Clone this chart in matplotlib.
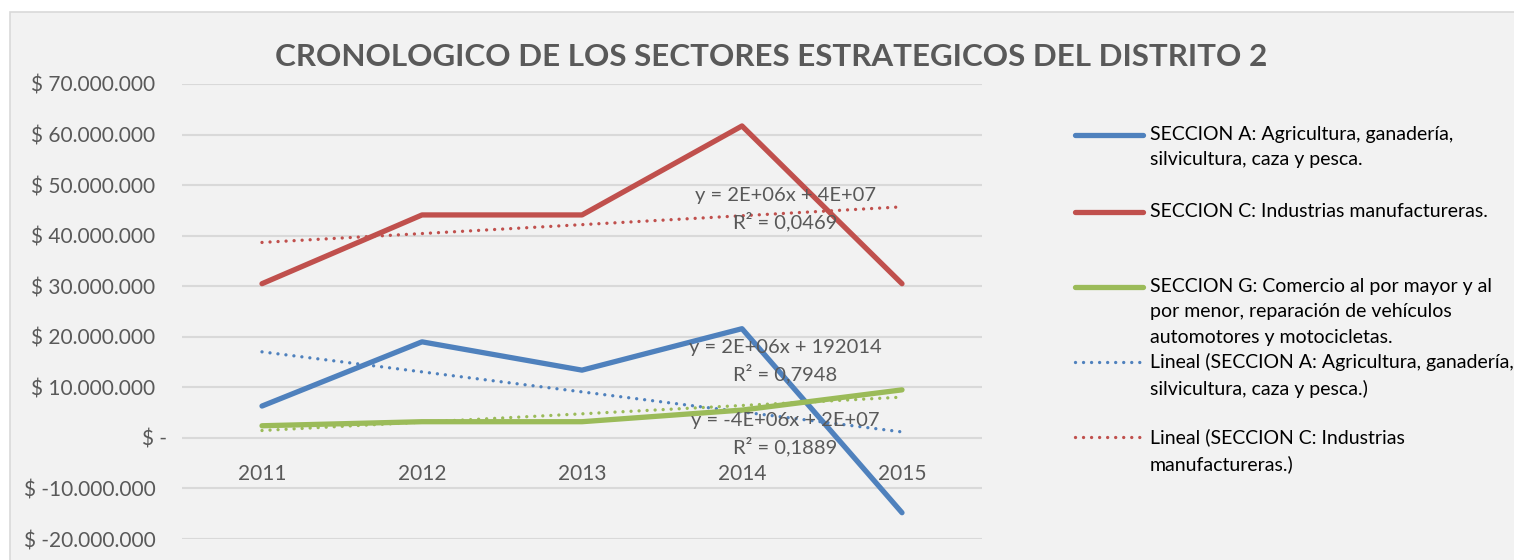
import numpy as np
import matplotlib.pyplot as plt
from matplotlib.lines import Line2D
from matplotlib.ticker import FuncFormatter
from matplotlib.transforms import ScaledTranslation

plt.rcParams['font.family'] = ['Lato', 'DejaVu Sans']

# --- data ----------------------------------------------------------------
years = ["2011", "2012", "2013", "2014", "2015"]
sec_a = [6.3e6, 19.0e6, 13.4e6, 21.6e6, -14.8e6]
sec_c = [30.5e6, 44.1e6, 44.1e6, 61.7e6, 30.5e6]
sec_g = [2.4e6, 3.2e6, 3.2e6, 5.5e6, 9.5e6]

labels = [
    "SECCION A: Agricultura, ganadería,\nsilvicultura, caza y pesca.",
    "SECCION C: Industrias manufactureras.",
    "SECCION G: Comercio al por mayor y al\npor menor, reparación de vehículos\nautomotores y motocicletas.",
    "Lineal (SECCION A: Agricultura, ganadería,\nsilvicultura, caza y pesca.)",
    "Lineal (SECCION C: Industrias\nmanufactureras.)",
]
eq_texts = [
    "y = 2E+06x + 4E+07\nR² = 0,0469",
    "y = 2E+06x + 192014\nR² = 0,7948",
    "y = -4E+06x + 2E+07\nR² = 0,1889",
]
title = "CRONOLOGICO DE LOS SECTORES ESTRATEGICOS DEL DISTRITO 2"

BLUE, RED, GREEN = "#4f81bd", "#c0504d", "#9bbb59"
GREY = "#595959"
BG = "#f2f2f2"
DOT = (0, (0.01, 2.4))

fig = plt.figure(figsize=(15.14, 5.6), dpi=100)
fig.patch.set_facecolor("white")
# chart-area box (Excel style), runs off right and bottom edges
box = plt.Rectangle((10 / 1514, -0.05), 1.1, 1 - 12 / 560 + 0.05,
                    transform=fig.transFigure, facecolor=BG,
                    edgecolor="#d9d9d9", lw=1.2, zorder=-10)
fig.patches.append(box)

ax = fig.add_axes([182 / 1514, 1 - 539 / 560, 800 / 1514, (539 - 84) / 560])
ax.patch.set_alpha(0)
ax.set_zorder(1)

x = np.arange(len(years))
series = [(sec_a, BLUE), (sec_c, RED), (sec_g, GREEN)]
for vals, col in series:
    ax.plot(x, vals, color=col, lw=3.8, solid_capstyle="round", zorder=3)

# linear trendlines (least squares, as Excel does)
for vals, col in series:
    k, b = np.polyfit(x, vals, 1)
    ax.plot(x, k * x + b, color=col, lw=2.4, linestyle=DOT,
            dash_capstyle="round", zorder=2)

# trendline equation labels
eq_pos = [(3.27, 45.3e6), (3.27, 15.2e6), (3.27, 0.8e6)]
for (ex, ey), t in zip(eq_pos, eq_texts):
    ax.text(ex, ey, t, ha="center", va="center", fontsize=14.5, color=GREY,
            linespacing=1.45, zorder=4)

ax.set_xlim(-0.5, len(years) - 0.5)
ax.set_ylim(-20e6, 70e6)
yticks = np.arange(-20e6, 70e6 + 1, 10e6)
ax.set_yticks(yticks)


def money(v, _):
    if abs(v) < 1:
        return "$ -"
    s = f"{abs(v):,.0f}".replace(",", ".")
    return f"$ -{s}" if v < 0 else f"$ {s}"


ax.yaxis.set_major_formatter(FuncFormatter(money))
ax.grid(axis="y", color="#d9d9d9", lw=1.5, zorder=0)
ax.set_axisbelow(True)
ax.set_xticks(x)
ax.set_xticklabels(years)
ax.spines["bottom"].set_position(("data", 0))
for sp in ax.spines.values():
    sp.set_visible(False)
ax.tick_params(axis="both", length=0, labelsize=15, colors=GREY)
ax.tick_params(axis="y", pad=19)
ax.tick_params(axis="x", pad=19)

# Excel pads the "$ -" label on the right, so it sits a little further in
zero_tick = ax.yaxis.get_major_ticks()[int(np.argmin(np.abs(yticks)))]
lab0 = zero_tick.label1
lab0.set_transform(lab0.get_transform() + ScaledTranslation(0.11, 0, fig.dpi_scale_trans))

fig.text(771 / 1514, 1 - 57 / 560, title, ha="center", va="center",
         fontsize=22.6, fontweight="bold", color=GREY)

# legend, drawn entry by entry to keep Excel's top-aligned layout
leg_styles = [(BLUE, "-"), (RED, "-"), (GREEN, "-"), (BLUE, DOT), (RED, DOT)]
leg_y = [135, 212, 287, 362, 437]
for (col, ls), lab, yy in zip(leg_styles, labels, leg_y):
    yf = 1 - yy / 560
    lw = 3.8 if ls == "-" else 2.4
    fig.add_artist(Line2D([1075 / 1514, 1143 / 1514], [yf, yf], color=col,
                          lw=lw, linestyle=ls, solid_capstyle="round",
                          dash_capstyle="round", transform=fig.transFigure))
    fig.text(1150 / 1514, 1 - (yy - 9) / 560, lab, ha="left", va="top",
             fontsize=14, color="black", linespacing=1.6)

fig.savefig("out.png", dpi=100, facecolor=fig.get_facecolor())
